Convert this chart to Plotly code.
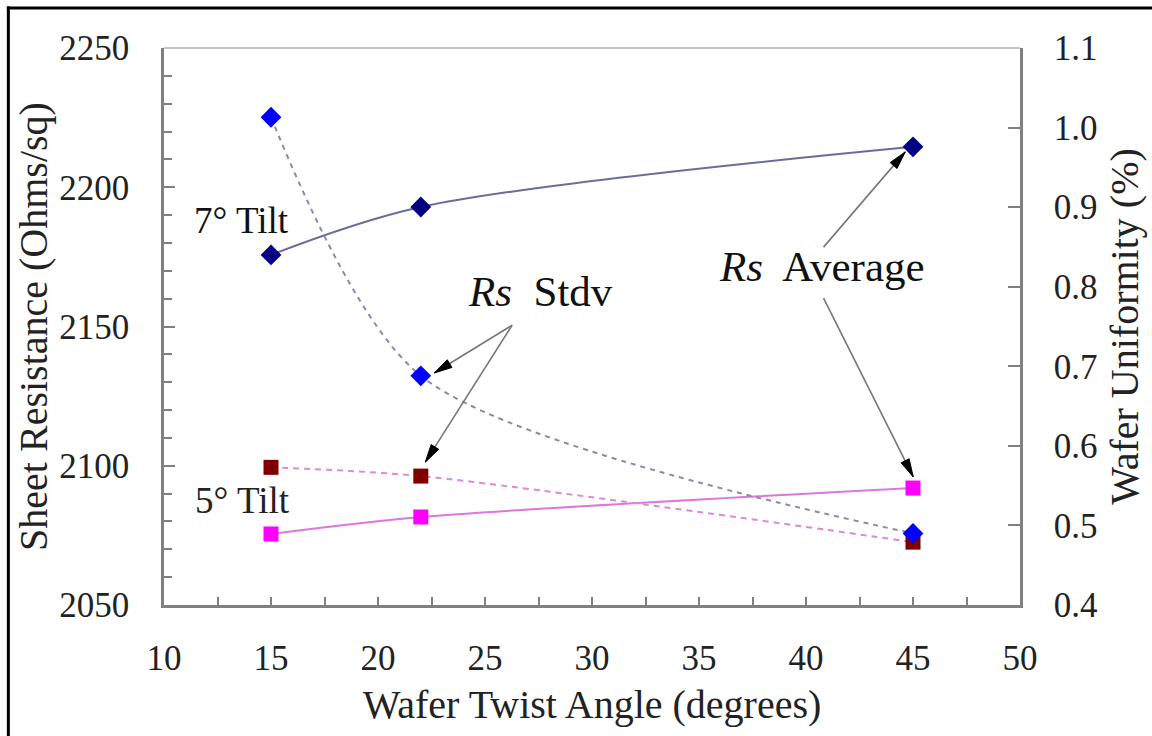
import math
import plotly.graph_objects as go

# Wafer twist angles (degrees)
twist_angle = [15, 22, 45]

# Sheet resistance averages (Ohms/sq), left axis
rs_avg_7deg = [2175.7, 2192.9, 2214.5]
rs_avg_5deg = [2075.5, 2081.6, 2092.0]

# Wafer uniformity / Rs standard deviation (%), right axis
rs_stdv_7deg = [1.013, 0.688, 0.490]
rs_stdv_5deg = [0.573, 0.562, 0.479]

x_ticks = [10, 15, 20, 25, 30, 35, 40, 45, 50]
y_left_ticks = [2050, 2100, 2150, 2200, 2250]
y_right_ticks = [0.4, 0.5, 0.6, 0.7, 0.8, 0.9, 1.0, 1.1]

FONT = "Liberation Serif, Times New Roman, serif"
AXIS_GRAY = "#808080"

W, H = 1152, 736
ML, MR, MT, MB = 164, 130, 48, 131
PW, PH = W - ML - MR, H - MT - MB
X_RANGE = [10, 50]
Y_RANGE = [2050, 2250]
SX = PW / (X_RANGE[1] - X_RANGE[0])
SY = PH / (Y_RANGE[1] - Y_RANGE[0])

fig = go.Figure()

fig.add_trace(go.Scatter(
    x=twist_angle, y=rs_stdv_5deg, yaxis="y2", mode="lines+markers",
    line=dict(color="#dd88dd", width=2, dash="6px,5px", shape="spline", smoothing=0.8),
    marker=dict(symbol="square", size=15, color="#800000"),
    name="5° Rs Stdv", showlegend=False,
))
fig.add_trace(go.Scatter(
    x=twist_angle, y=rs_avg_5deg, mode="lines+markers",
    line=dict(color="#dd77dd", width=2, shape="spline", smoothing=0.8),
    marker=dict(symbol="square", size=15, color="#ff00ff"),
    name="5° Rs Average", showlegend=False,
))
fig.add_trace(go.Scatter(
    x=twist_angle, y=rs_stdv_7deg, yaxis="y2", mode="lines+markers",
    line=dict(color="#8a8aac", width=2, dash="5px,5px", shape="spline", smoothing=0.8),
    marker=dict(symbol="diamond", size=16, color="#0000ff"),
    name="7° Rs Stdv", showlegend=False,
))
fig.add_trace(go.Scatter(
    x=twist_angle, y=rs_avg_7deg, mode="lines+markers",
    line=dict(color="#6b6b9e", width=2, shape="spline", smoothing=0.9),
    marker=dict(symbol="diamond", size=16, color="#000080"),
    name="7° Rs Average", showlegend=False,
))


def arrow_shapes(tail, tip, head_len=18, head_half=4.5):
    """Gray shaft plus a narrow black head, in x / left-y data coordinates."""
    dx = (tip[0] - tail[0]) * SX
    dy = (tip[1] - tail[1]) * SY
    L = math.hypot(dx, dy)
    ux, uy = dx / L, dy / L
    nx, ny = -uy, ux
    bx = -ux * head_len
    by = -uy * head_len
    p1 = (tip[0] + (bx + nx * head_half) / SX, tip[1] + (by + ny * head_half) / SY)
    p2 = (tip[0] + (bx - nx * head_half) / SX, tip[1] + (by - ny * head_half) / SY)
    shaft = dict(type="line", xref="x", yref="y", x0=tail[0], y0=tail[1],
                 x1=tip[0], y1=tip[1], line=dict(color="#777777", width=1.6))
    head = dict(type="path", xref="x", yref="y",
                path=f"M{tip[0]},{tip[1]} L{p1[0]},{p1[1]} L{p2[0]},{p2[1]} Z",
                fillcolor="black", line=dict(color="black", width=1))
    return [shaft, head]


shapes = []
# Rs Stdv callouts
shapes += arrow_shapes((26.27, 2150.5), (22.63, 2133.3))
shapes += arrow_shapes((26.27, 2150.5), (22.21, 2101.3))
# Rs Average callouts
shapes += arrow_shapes((40.82, 2178.5), (44.64, 2212.7))
shapes += arrow_shapes((40.82, 2160.2), (45.01, 2096.0))

# light top edge of the plot box
shapes.append(dict(type="line", xref="paper", yref="paper", x0=0, x1=1, y0=1, y1=1,
                   line=dict(color="#c4c4c4", width=2), layer="below"))


def px_to_paper_x(px):
    return (px - ML) / PW


def px_to_paper_y(py):
    return (H - MB - py) / PH


# outer frame (left and top edges)
shapes.append(dict(type="line", xref="paper", yref="paper",
                   x0=px_to_paper_x(8), x1=px_to_paper_x(8),
                   y0=px_to_paper_y(6.5), y1=px_to_paper_y(745),
                   line=dict(color="black", width=3)))
shapes.append(dict(type="line", xref="paper", yref="paper",
                   x0=px_to_paper_x(6.5), x1=px_to_paper_x(1160),
                   y0=px_to_paper_y(8), y1=px_to_paper_y(8),
                   line=dict(color="black", width=3)))

annotations = [
    dict(x=13.64, y=2188.2, xref="x", yref="y", text="7° Tilt", showarrow=False,
         font=dict(family=FONT, size=37, color="#111111")),
    dict(x=13.68, y=2087.7, xref="x", yref="y", text="5° Tilt", showarrow=False,
         font=dict(family=FONT, size=37, color="#222222")),
    dict(x=27.58, y=2162.4, xref="x", yref="y", text="<i>Rs</i>&nbsp; Stdv", showarrow=False,
         font=dict(family=FONT, size=43, color="#111111")),
    dict(x=40.77, y=2171.4, xref="x", yref="y", text="<i>Rs</i>&nbsp; Average", showarrow=False,
         font=dict(family=FONT, size=43, color="#111111")),
]

tick_font = dict(family=FONT, size=35, color="#222222")
title_font = dict(family=FONT, size=40, color="#222222")

fig.update_layout(
    width=W, height=H, autosize=False,
    margin=dict(l=ML, r=MR, t=MT, b=MB, pad=0),
    paper_bgcolor="white", plot_bgcolor="white",
    showlegend=False,
    xaxis=dict(
        range=X_RANGE, tickvals=x_ticks, ticks="inside", ticklen=8, tickwidth=2,
        tickcolor=AXIS_GRAY, showline=True, linecolor=AXIS_GRAY, linewidth=2.5,
        showgrid=False, zeroline=False, tickfont=tick_font, ticklabelstandoff=20,
        minor=dict(dtick=2.5, tick0=10, ticks="inside", ticklen=8, tickwidth=2,
                   tickcolor=AXIS_GRAY, showgrid=False),
        title=dict(text="Wafer Twist Angle (degrees)", font=title_font, standoff=14),
    ),
    yaxis=dict(
        range=Y_RANGE, tickvals=y_left_ticks, ticks="inside", ticklen=11, tickwidth=2,
        tickcolor=AXIS_GRAY, showline=True, linecolor=AXIS_GRAY, linewidth=2.5,
        showgrid=False, zeroline=False, tickfont=tick_font, ticklabelstandoff=25,
        minor=dict(dtick=10, tick0=2050, ticks="inside", ticklen=8, tickwidth=2,
                   tickcolor=AXIS_GRAY, showgrid=False),
        title=dict(text="Sheet Resistance (Ohms/sq)", font=title_font, standoff=0),
    ),
    yaxis2=dict(
        range=[0.4, 1.1], tickvals=y_right_ticks, tickformat=".1f", overlaying="y", side="right",
        ticks="inside", ticklen=12, tickwidth=2, tickcolor=AXIS_GRAY,
        showline=True, linecolor=AXIS_GRAY, linewidth=2.5,
        showgrid=False, zeroline=False, tickfont=tick_font, ticklabelstandoff=24,
        title=dict(text="Wafer Uniformity (%)", font=title_font, standoff=14),
    ),
    shapes=shapes,
    annotations=annotations,
)

fig.write_html("out.html")
